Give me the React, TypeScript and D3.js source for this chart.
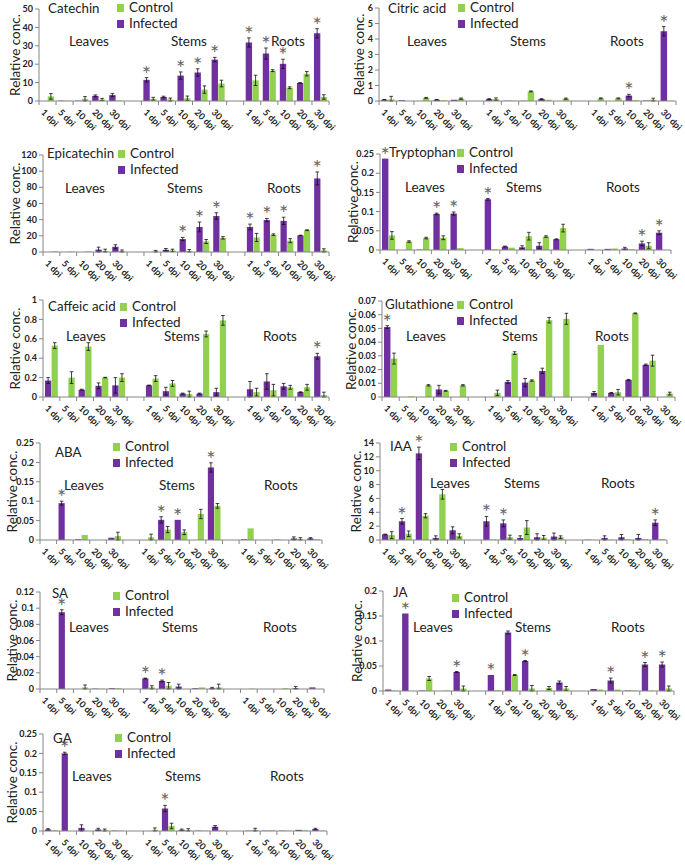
import React from 'react';
import * as d3 from 'd3';

const DPI = ['1 dpi', '5 dpi', '10 dpi', '20 dpi', '30 dpi'];
const ORGANS = ['Leaves', 'Stems', 'Roots'];
const SERIES = ['Infected', 'Control'];
const COLORS: Record<string, string> = { Infected: '#7030a0', Control: '#92d050' };

// order: Leaves 1..30 dpi, Stems 1..30 dpi, Roots 1..30 dpi
const catechinInf = [0, 0.2, 0.2, 2.8, 3.2, 11.5, 2.2, 13.8, 15.5, 22.5, 31.8, 25.8, 20.2, 9.8, 36.8];
const catechinInfErr = [0, 0, 0, 0.5, 0.8, 1.2, 0.4, 2, 2, 1.2, 2.5, 3, 2.5, 0.2, 2.5];
const catechinCtl = [2.5, 0.2, 1.2, 0.8, 0.3, 1.2, 0.8, 1.5, 6.2, 9.5, 11.2, 16.5, 7.2, 14.8, 2.2];
const catechinCtlErr = [1.5, 0, 1.2, 0.6, 0, 0.8, 0.8, 1.2, 2, 1.8, 2.8, 0.5, 0.5, 1.2, 1.2];
const catechinSig = [5, 7, 8, 9, 10, 11, 12, 14];
const catechinTicks = [0, 10, 20, 30, 40, 50];

const citricInf = [0.08, 0.05, 0, 0.08, 0.08, 0.12, 0.02, 0.02, 0.12, 0, 0, 0, 0.35, 0.03, 4.5];
const citricInfErr = [0.02, 0, 0, 0.02, 0, 0.03, 0, 0, 0.03, 0, 0, 0, 0.08, 0, 0.3];
const citricCtl = [0.1, 0, 0.2, 0.05, 0.15, 0.12, 0.03, 0.62, 0.08, 0.15, 0.17, 0.17, 0.05, 0.08, 0.02];
const citricCtlErr = [0.2, 0, 0.03, 0, 0.04, 0.08, 0, 0.03, 0, 0.04, 0.03, 0.03, 0, 0.1, 0];
const citricSig = [12, 14];
const citricTicks = [0, 1, 2, 3, 4, 5, 6];

const epicatechinInf = [0, 0, 0, 3, 6.5, 0, 2.8, 16, 31, 44.5, 31, 39.5, 38.5, 20.5, 91];
const epicatechinInfErr = [0, 0, 0, 3, 2.5, 0, 1.5, 2, 6, 4, 3.5, 2, 4.5, 0.3, 8];
const epicatechinCtl = [0.8, 0.5, 0.8, 1.5, 1, 1, 2, 1, 13, 17.5, 18, 21.5, 14, 27, 2];
const epicatechinCtlErr = [0, 0, 0, 2, 1.5, 1, 1.5, 2, 2.5, 1.5, 5, 1, 2.5, 0.5, 2];
const epicatechinSig = [7, 8, 9, 10, 11, 12, 14];
const epicatechinTicks = [0, 20, 40, 60, 80, 100, 120];

const tryptophanInf = [0.238, 0, 0.001, 0.094, 0.095, 0.132, 0.009, 0.007, 0.011, 0.028, 0.003, 0.003, 0.004, 0.017, 0.045];
const tryptophanInfErr = [0, 0, 0, 0.002, 0.004, 0.002, 0.001, 0.004, 0.008, 0.001, 0, 0, 0.003, 0.006, 0.005];
const tryptophanCtl = [0.038, 0.022, 0.031, 0.032, 0.005, 0.002, 0.006, 0.036, 0.035, 0.057, 0, 0.004, 0.002, 0.011, 0];
const tryptophanCtlErr = [0.01, 0.002, 0.002, 0.005, 0, 0, 0, 0.01, 0.002, 0.01, 0, 0, 0, 0.008, 0];
const tryptophanSig = [0, 3, 4, 5, 13, 14];
const tryptophanTicks = [0, 0.05, 0.1, 0.15, 0.2, 0.25];

const caffeicInf = [0.17, 0, 0.075, 0.115, 0.12, 0.12, 0.06, 0.035, 0.035, 0.05, 0.08, 0.16, 0.11, 0.05, 0.42];
const caffeicInfErr = [0.03, 0, 0.005, 0.03, 0.08, 0.003, 0.04, 0.005, 0.005, 0.04, 0.08, 0.08, 0.03, 0.003, 0.03];
const caffeicCtl = [0.53, 0.2, 0.52, 0.2, 0.2, 0.19, 0.14, 0.03, 0.65, 0.79, 0.05, 0.07, 0.1, 0.1, 0.02];
const caffeicCtlErr = [0.03, 0.06, 0.04, 0.003, 0.04, 0.03, 0.03, 0.03, 0.03, 0.05, 0.04, 0.06, 0.02, 0.03, 0.03];
const caffeicSig = [14];
const caffeicTicks = [0, 0.2, 0.4, 0.6, 0.8, 1];

const glutathioneInf = [0.051, 0, 0, 0.0055, 0, 0, 0.011, 0.0105, 0.019, 0, 0.003, 0.003, 0.0125, 0.0235, 0];
const glutathioneInfErr = [0.001, 0, 0, 0.003, 0, 0, 0.001, 0.003, 0.002, 0, 0.001, 0.0003, 0.0003, 0.0005, 0];
const glutathioneCtl = [0.028, 0.0005, 0.0085, 0.0045, 0.0085, 0.003, 0.032, 0.012, 0.056, 0.057, 0.038, 0.0035, 0.061, 0.0265, 0.0025];
const glutathioneCtlErr = [0.004, 0, 0.0005, 0.0003, 0.0005, 0.002, 0.001, 0.0005, 0.002, 0.004, 0, 0.002, 0.0003, 0.004, 0.001];
const glutathioneSig = [0];
const glutathioneTicks = [0, 0.01, 0.02, 0.03, 0.04, 0.05, 0.06, 0.07];

const abaInf = [0, 0.095, 0.002, 0, 0.006, 0, 0.052, 0.052, 0, 0.187, 0.002, 0, 0.001, 0.004, 0.004];
const abaInfErr = [0, 0.005, 0, 0, 0, 0, 0.008, 0, 0, 0.012, 0, 0, 0, 0.004, 0.002];
const abaCtl = [0, 0.001, 0.013, 0, 0.01, 0.007, 0.027, 0.02, 0.067, 0.088, 0.03, 0, 0, 0.002, 0.002];
const abaCtlErr = [0, 0, 0, 0, 0.01, 0.008, 0.008, 0.006, 0.012, 0.006, 0, 0, 0, 0.004, 0];
const abaSig = [1, 6, 7, 9];
const abaTicks = [0, 0.05, 0.1, 0.15, 0.2, 0.25];

const iaaInf = [0.8, 2.7, 12.5, 0.3, 1.4, 2.7, 2.4, 0.3, 0.4, 0.5, 0.05, 0.3, 0.4, 0.3, 2.5];
const iaaInfErr = [0.05, 0.4, 0.9, 0.3, 0.5, 0.7, 0.5, 0.3, 0.5, 0.5, 0, 0.3, 0.4, 0.5, 0.4];
const iaaCtl = [0.7, 0.9, 3.5, 6.6, 0.6, 0.1, 0.4, 1.8, 0.35, 0.4, 0.03, 0.05, 0.1, 0.15, 0.15];
const iaaCtlErr = [0.5, 0.4, 0.3, 0.7, 0.3, 0, 0.3, 1, 0.3, 0.2, 0, 0, 0, 0, 0];
const iaaSig = [1, 2, 5, 6, 14];
const iaaTicks = [0, 2, 4, 6, 8, 10, 12, 14];

const saInf = [0, 0.095, 0, 0.0005, 0.001, 0.013, 0.01, 0.003, 0.001, 0.001, 0, 0, 0, 0.001, 0.002];
const saInfErr = [0, 0.003, 0, 0, 0, 0.0005, 0.001, 0.003, 0, 0.001, 0, 0, 0, 0.002, 0];
const saCtl = [0, 0, 0.002, 0.0003, 0.001, 0.002, 0.004, 0, 0.002, 0.002, 0.0005, 0, 0.001, 0, 0];
const saCtlErr = [0, 0, 0.003, 0, 0, 0.002, 0.004, 0, 0, 0.004, 0, 0, 0, 0, 0];
const saSig = [1, 5, 6];
const saTicks = [0, 0.02, 0.04, 0.06, 0.08, 0.1, 0.12];

const jaInf = [0.003, 0.155, 0.001, 0, 0.038, 0.032, 0.117, 0.06, 0, 0.017, 0.004, 0.021, 0.001, 0.053, 0.053];
const jaInfErr = [0, 0, 0, 0, 0.001, 0, 0.003, 0.001, 0, 0.003, 0, 0.005, 0, 0.004, 0.005];
const jaCtl = [0.001, 0, 0.025, 0.001, 0.005, 0.002, 0.032, 0.005, 0.006, 0.005, 0.003, 0.003, 0.001, 0.001, 0.005];
const jaCtlErr = [0, 0, 0.004, 0, 0.005, 0, 0.001, 0.006, 0.003, 0.004, 0, 0, 0, 0, 0.005];
const jaSig = [1, 4, 5, 7, 11, 13, 14];
const jaTicks = [0, 0.05, 0.1, 0.15, 0.2];

const gaInf = [0.004, 0.2, 0.008, 0.004, 0.001, 0, 0.058, 0.003, 0.001, 0.011, 0.001, 0.001, 0.001, 0.003, 0.005];
const gaInfErr = [0.002, 0.003, 0.008, 0.003, 0, 0, 0.008, 0.002, 0, 0.003, 0, 0, 0, 0, 0.002];
const gaCtl = [0.002, 0, 0, 0.002, 0.001, 0.003, 0.013, 0.002, 0.001, 0.001, 0.003, 0.002, 0.001, 0.002, 0.001];
const gaCtlErr = [0, 0, 0, 0.003, 0, 0.005, 0.007, 0.004, 0, 0, 0.004, 0, 0, 0, 0];
const gaSig = [1, 6];
const gaTicks = [0, 0.05, 0.1, 0.15, 0.2, 0.25];

// layout: axis box, title / legend / organ label positions
const panels = [
  { title: 'Catechin', inf: catechinInf, infErr: catechinInfErr, ctl: catechinCtl, ctlErr: catechinCtlErr, sig: catechinSig, ticks: catechinTicks,
    x0: 39, x1: 329, yT: 9, yB: 101, yTitleX: 20, titleX: 48, titleY: 13, legX: 117, legY: 12, orgY: 46, orgX: [89, 189, 288] },
  { title: 'Citric acid', inf: citricInf, infErr: citricInfErr, ctl: citricCtl, ctlErr: citricCtlErr, sig: citricSig, ticks: citricTicks,
    x0: 379, x1: 676, yT: 8, yB: 101, yTitleX: 364, titleX: 388, titleY: 13, legX: 458, legY: 12, orgY: 46, orgX: [427, 528, 627] },
  { title: 'Epicatechin', inf: epicatechinInf, infErr: epicatechinInfErr, ctl: epicatechinCtl, ctlErr: epicatechinCtlErr, sig: epicatechinSig, ticks: epicatechinTicks,
    x0: 43, x1: 329, yT: 155, yB: 252, yTitleX: 20, titleX: 47, titleY: 158, legX: 118, legY: 158, orgY: 193, orgX: [85, 185, 284] },
  { title: 'Tryptophan', inf: tryptophanInf, infErr: tryptophanInfErr, ctl: tryptophanCtl, ctlErr: tryptophanCtlErr, sig: tryptophanSig, ticks: tryptophanTicks,
    x0: 380, x1: 671, yT: 154, yB: 250, yTitleX: 358, titleX: 389, titleY: 157, legX: 457, legY: 157, orgY: 192, orgX: [425, 524, 623] },
  { title: 'Caffeic acid', inf: caffeicInf, infErr: caffeicInfErr, ctl: caffeicCtl, ctlErr: caffeicCtlErr, sig: caffeicSig, ticks: caffeicTicks,
    x0: 43, x1: 329, yT: 300, yB: 397, yTitleX: 20, titleX: 48, titleY: 311, legX: 120, legY: 311, orgY: 341, orgX: [86, 182, 280] },
  { title: 'Glutathione', inf: glutathioneInf, infErr: glutathioneInfErr, ctl: glutathioneCtl, ctlErr: glutathioneCtlErr, sig: glutathioneSig, ticks: glutathioneTicks,
    x0: 382, x1: 675, yT: 301, yB: 397, yTitleX: 356, titleX: 385, titleY: 309, legX: 457, legY: 309, orgY: 341, orgX: [426, 520, 612] },
  { title: 'ABA', inf: abaInf, infErr: abaInfErr, ctl: abaCtl, ctlErr: abaCtlErr, sig: abaSig, ticks: abaTicks,
    x0: 40, x1: 322, yT: 443, yB: 540, yTitleX: 17, titleX: 55, titleY: 457, legX: 113, legY: 451, orgY: 490, orgX: [84, 177, 281] },
  { title: 'IAA', inf: iaaInf, infErr: iaaInfErr, ctl: iaaCtl, ctlErr: iaaCtlErr, sig: iaaSig, ticks: iaaTicks,
    x0: 380, x1: 667, yT: 443, yB: 540, yTitleX: 361, titleX: 390, titleY: 451, legX: 450, legY: 451, orgY: 488, orgX: [450, 522, 618] },
  { title: 'SA', inf: saInf, infErr: saInfErr, ctl: saCtl, ctlErr: saCtlErr, sig: saSig, ticks: saTicks,
    x0: 40, x1: 324, yT: 592, yB: 689, yTitleX: 17, titleX: 52, titleY: 598, legX: 113, legY: 600, orgY: 632, orgX: [89, 180, 280] },
  { title: 'JA', inf: jaInf, infErr: jaInfErr, ctl: jaCtl, ctlErr: jaCtlErr, sig: jaSig, ticks: jaTicks,
    x0: 383, x1: 674, yT: 591, yB: 691, yTitleX: 362, titleX: 393, titleY: 597, legX: 452, legY: 602, orgY: 632, orgX: [433, 533, 628] },
  { title: 'GA', inf: gaInf, infErr: gaInfErr, ctl: gaCtl, ctlErr: gaCtlErr, sig: gaSig, ticks: gaTicks,
    x0: 43, x1: 327, yT: 734, yB: 831, yTitleX: 17, titleX: 53, titleY: 743, legX: 115, legY: 742, orgY: 781, orgX: [92, 183, 287] },
];

const FONT = 'Lato, "Open Sans", sans-serif';
const AXIS = '#868686';

const slotKeys = ORGANS.flatMap((o, k) => {
  const keys = DPI.map(d => `${o}|${d}`);
  return k < ORGANS.length - 1 ? [...keys, `gap${k}`] : keys;
});
const catKeys = ORGANS.flatMap(o => DPI.map(d => `${o}|${d}`));

function Panel({ p }: { p: typeof panels[number] }) {
  const x = d3.scaleBand<string>().domain(slotKeys).range([p.x0, p.x1]);
  const xs = d3.scaleBand<string>().domain(SERIES).range([0, x.bandwidth()]).paddingInner(0.05).paddingOuter(0.3);
  const y = d3.scaleLinear().domain([0, p.ticks[p.ticks.length - 1]]).range([p.yB, p.yT]);
  const bw = xs.bandwidth();

  const bars = catKeys.flatMap((key, i) =>
    SERIES.map(s => {
      const v = s === 'Infected' ? p.inf[i] : p.ctl[i];
      const e = s === 'Infected' ? p.infErr[i] : p.ctlErr[i];
      return { key, i, s, v, e, bx: (x(key) as number) + (xs(s) as number) };
    })
  );

  return (
    <g>
      {/* y axis */}
      <line x1={p.x0} x2={p.x0} y1={p.yT} y2={p.yB} stroke={AXIS} />
      {p.ticks.map(t => (
        <g key={t}>
          <line x1={p.x0 - 4} x2={p.x0} y1={y(t)} y2={y(t)} stroke={AXIS} />
          <text x={p.x0 - 6} y={y(t)} dy="0.35em" textAnchor="end" fontSize={9} fontWeight="bold" fill="#222">{String(t)}</text>
        </g>
      ))}
      <text transform={`translate(${p.yTitleX},${(p.yT + p.yB) / 2}) rotate(-90)`} textAnchor="middle" fontSize={13.5} fill="#222">Relative conc.</text>

      {/* bars */}
      {bars.filter(b => b.v > 0).map(b => (
        <rect key={b.key + b.s} x={b.bx} y={y(b.v)} width={bw} height={y(0) - y(b.v)} fill={COLORS[b.s]} />
      ))}
      {bars.filter(b => b.e > 0).map(b => {
        const cx = b.bx + bw / 2;
        const top = y(b.v + b.e);
        const bot = y(Math.max(0, b.v - b.e));
        return (
          <g key={'e' + b.key + b.s} stroke="#111" strokeWidth={0.8}>
            <line x1={cx} x2={cx} y1={top} y2={bot} />
            <line x1={cx - 1.8} x2={cx + 1.8} y1={top} y2={top} />
            <line x1={cx - 1.8} x2={cx + 1.8} y1={bot} y2={bot} />
          </g>
        );
      })}
      <g opacity={0.99}>
        {p.sig.map(i => {
          const b = bars.find(d => d.i === i && d.s === 'Infected')!;
          return (
            <text key={'s' + i} x={b.bx + bw / 2} y={y(b.v + b.e) + 4} textAnchor="middle" fontSize={22} fill="#666">*</text>
          );
        })}
      </g>

      {/* x axis */}
      <line x1={p.x0} x2={p.x1} y1={p.yB} y2={p.yB} stroke={AXIS} />
      {d3.range(slotKeys.length + 1).map(k => {
        const xx = p.x0 + k * x.step();
        return <line key={k} x1={xx} x2={xx} y1={p.yB} y2={p.yB + 4} stroke={AXIS} />;
      })}
      {catKeys.map(key => {
        const cx = (x(key) as number) + x.bandwidth() / 2;
        return (
          <text key={key} transform={`translate(${cx - 7},${p.yB + 12}) rotate(45)`} fontSize={9} fontWeight="bold" fill="#222">
            {key.split('|')[1]}
          </text>
        );
      })}

      {/* title, legend, organs */}
      <text x={p.titleX} y={p.titleY} fontSize={13.3} fill="#222">{p.title}</text>
      {['Control', 'Infected'].map((s, k) => (
        <g key={s}>
          <rect x={p.legX} y={p.legY + k * 16 - 8} width={7} height={8} fill={COLORS[s]} />
          <text x={p.legX + 12} y={p.legY + k * 16} fontSize={13.5} fill="#222">{s}</text>
        </g>
      ))}
      {ORGANS.map((o, k) => (
        <text key={o} x={p.orgX[k]} y={p.orgY} textAnchor="middle" fontSize={13.5} fill="#222">{o}</text>
      ))}
    </g>
  );
}

export default function App() {
  return (
    <div style={{ position: 'absolute', left: 0, top: 0 }}>
      <svg width={685} height={865} viewBox="0 0 685 865" style={{ display: 'block', background: '#fff', fontFamily: FONT }}>
        {panels.map(p => <Panel key={p.title} p={p} />)}
      </svg>
    </div>
  );
}
